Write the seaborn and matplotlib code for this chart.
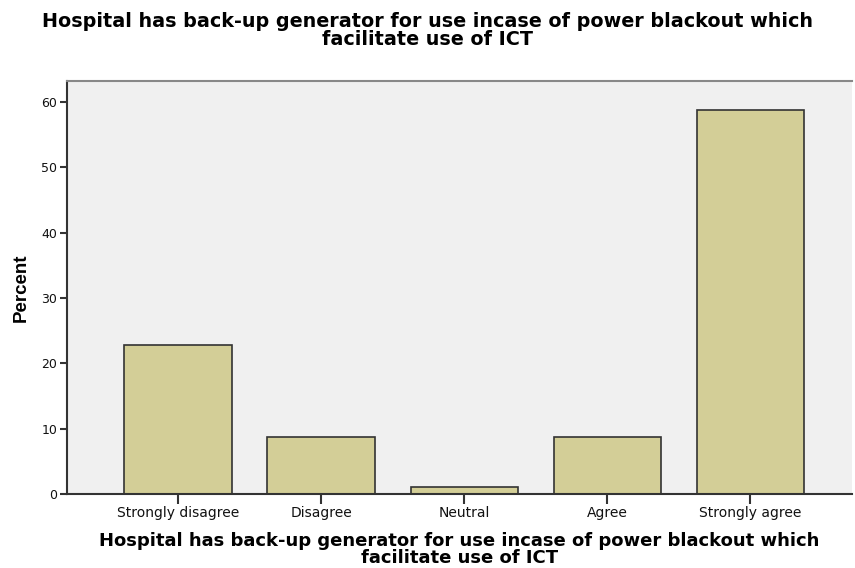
import pandas as pd
import seaborn as sns
import matplotlib.pyplot as plt

# Respuestas y porcentajes
categories = ["Strongly disagree", "Disagree", "Neutral", "Agree", "Strongly agree"]
percent = [22.83, 8.70, 1.09, 8.70, 58.70]
y_ticks = [0, 10, 20, 30, 40, 50, 60]

title = "Hospital has back-up generator for use incase of power blackout which\nfacilitate use of ICT"

data = pd.DataFrame({"answer": categories, "percent": percent})

sns.set_style("white")
plt.rcParams["font.family"] = ["DejaVu Sans"]

fig = plt.figure(figsize=(8.55, 5.68), dpi=100)
ax = fig.add_axes([0.0784, 0.1303, 0.918, 0.7271])
ax.set_facecolor("#F0F0F0")

sns.barplot(data=data, x="answer", y="percent", color="#D3CE97",
            saturation=1, edgecolor="#333333", linewidth=1.2, width=0.75, ax=ax)

ax.set_xlim(-0.776, 4.71)
ax.set_ylim(0, 63.2)
ax.set_yticks(y_ticks)
ax.tick_params(axis="y", direction="out", length=5, width=1.5, color="#333333",
               labelsize=9, pad=2, labelcolor="#111111")
ax.tick_params(axis="x", direction="out", length=7, width=1.5, color="#333333",
               labelsize=10, pad=2, labelcolor="#111111")
ax.yaxis.set_ticks_position("left")
ax.xaxis.set_ticks_position("bottom")

for side in ["left", "bottom"]:
    ax.spines[side].set_color("#333333")
    ax.spines[side].set_linewidth(1.5)
ax.spines["top"].set_color("#888888")
ax.spines["top"].set_linewidth(1.5)
ax.spines["right"].set_visible(False)

ax.set_ylabel("Percent", fontsize=13.5, fontweight="bold", labelpad=8,
              family="Liberation Sans", color="black")
ax.set_xlabel(title, fontsize=13, fontweight="bold", labelpad=8, linespacing=0.95,
              color="black")
fig.suptitle(title, fontsize=13.8, fontweight="bold", y=0.979, linespacing=0.95,
             color="black")

fig.savefig("out.png", dpi=100)
